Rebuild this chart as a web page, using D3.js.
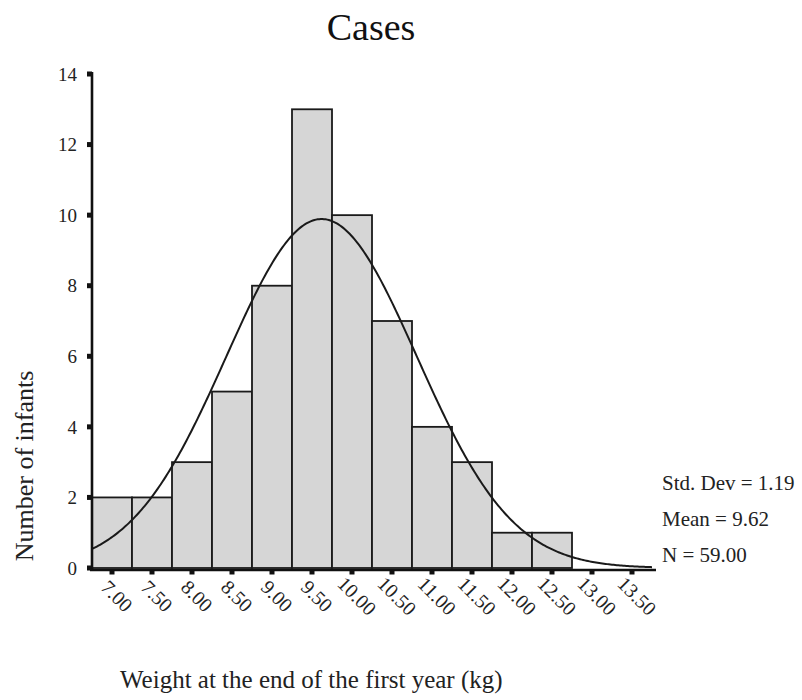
<!DOCTYPE html>
<html>
<head>
<meta charset="utf-8">
<script src="https://cdn.jsdelivr.net/npm/d3@7"></script>
<style>
  body { margin: 0; background: #fff; }
  svg { display: block; font-family: "Liberation Serif", "DejaVu Serif", serif; }
</style>
</head>
<body>
<svg id="chart" width="802" height="700"></svg>
<script>
// Histogram bins (centres, kg) and infant counts
const binCenters = [7.00, 7.50, 8.00, 8.50, 9.00, 9.50, 10.00, 10.50, 11.00, 11.50, 12.00, 12.50];
const counts     = [2, 2, 3, 5, 8, 13, 10, 7, 4, 3, 1, 1];
const xTickValues = [7.00, 7.50, 8.00, 8.50, 9.00, 9.50, 10.00, 10.50, 11.00, 11.50, 12.00, 12.50, 13.00, 13.50];
const yTickValues = [0, 2, 4, 6, 8, 10, 12, 14];
const stats = { sd: 1.19, mean: 9.62, n: 59 };
const binWidth = 0.5;

const svg = d3.select("#chart");

const x = d3.scaleLinear().domain([6.75, 13.5]).range([92, 632]);
const y = d3.scaleLinear().domain([0, 14]).range([568, 74]);

// Title
svg.append("text")
  .attr("x", 371).attr("y", 40)
  .attr("text-anchor", "middle")
  .attr("font-size", 38)
  .attr("fill", "#111")
  .text("Cases");

// Bars
svg.append("g").selectAll("rect")
  .data(binCenters)
  .join("rect")
  .attr("x", d => x(d - binWidth / 2))
  .attr("width", d => x(d + binWidth / 2) - x(d - binWidth / 2))
  .attr("y", (d, i) => y(counts[i]))
  .attr("height", (d, i) => y(0) - y(counts[i]))
  .attr("fill", "#d6d6d6")
  .attr("stroke", "#1a1a1a")
  .attr("stroke-width", 1.8);

// Normal curve scaled to counts
const normal = v => stats.n * binWidth / (stats.sd * Math.sqrt(2 * Math.PI)) *
  Math.exp(-0.5 * Math.pow((v - stats.mean) / stats.sd, 2));
const curvePts = d3.range(6.75, 13.76, 0.02).map(v => [v, normal(v)]);
svg.append("path")
  .datum(curvePts)
  .attr("fill", "none")
  .attr("stroke", "#1a1a1a")
  .attr("stroke-width", 2)
  .attr("d", d3.line().x(d => x(d[0])).y(d => y(d[1])));

// Y axis
const yAxis = svg.append("g");
yAxis.append("line")
  .attr("x1", 92).attr("x2", 92)
  .attr("y1", y(14) - 2).attr("y2", y(0) + 2)
  .attr("stroke", "#111").attr("stroke-width", 2.6);
yAxis.selectAll("rect.tick")
  .data(yTickValues)
  .join("rect")
  .attr("class", "tick")
  .attr("x", 87).attr("y", d => y(d) - 2.5)
  .attr("width", 5).attr("height", 5)
  .attr("fill", "#111");
yAxis.selectAll("text")
  .data(yTickValues)
  .join("text")
  .attr("x", 77).attr("y", d => y(d))
  .attr("dy", "0.35em")
  .attr("text-anchor", "end")
  .attr("font-size", 19)
  .attr("fill", "#222")
  .text(d => d);

// X axis
const xAxis = svg.append("g");
xAxis.append("line")
  .attr("x1", 90).attr("x2", 656)
  .attr("y1", 570).attr("y2", 570)
  .attr("stroke", "#111").attr("stroke-width", 2.6);
xAxis.selectAll("rect.tick")
  .data(xTickValues)
  .join("rect")
  .attr("class", "tick")
  .attr("x", d => x(d) - 2.5).attr("y", 570)
  .attr("width", 5).attr("height", 4.5)
  .attr("fill", "#111");
xAxis.selectAll("text")
  .data(xTickValues)
  .join("text")
  .attr("transform", d => `translate(${x(d) + 5},${596}) rotate(45)`)
  .attr("text-anchor", "middle")
  .attr("dy", "0.35em")
  .attr("font-size", 20)
  .attr("fill", "#222")
  .text(d => d.toFixed(2));

// Axis titles
svg.append("text")
  .attr("transform", "translate(33,466) rotate(-90)")
  .attr("text-anchor", "middle")
  .attr("font-size", 26)
  .attr("fill", "#222")
  .text("Number of infants");

svg.append("text")
  .attr("x", 120).attr("y", 688)
  .attr("font-size", 25)
  .attr("fill", "#222")
  .text("Weight at the end of the first year (kg)");

// Summary statistics
const statLines = [
  `Std. Dev = ${stats.sd.toFixed(2)}`,
  `Mean = ${stats.mean.toFixed(2)}`,
  `N = ${stats.n.toFixed(2)}`
];
svg.append("g").selectAll("text")
  .data(statLines)
  .join("text")
  .attr("x", 662)
  .attr("y", (d, i) => 490 + i * 36)
  .attr("font-size", 21)
  .attr("fill", "#222")
  .text(d => d);
</script>
</body>
</html>
